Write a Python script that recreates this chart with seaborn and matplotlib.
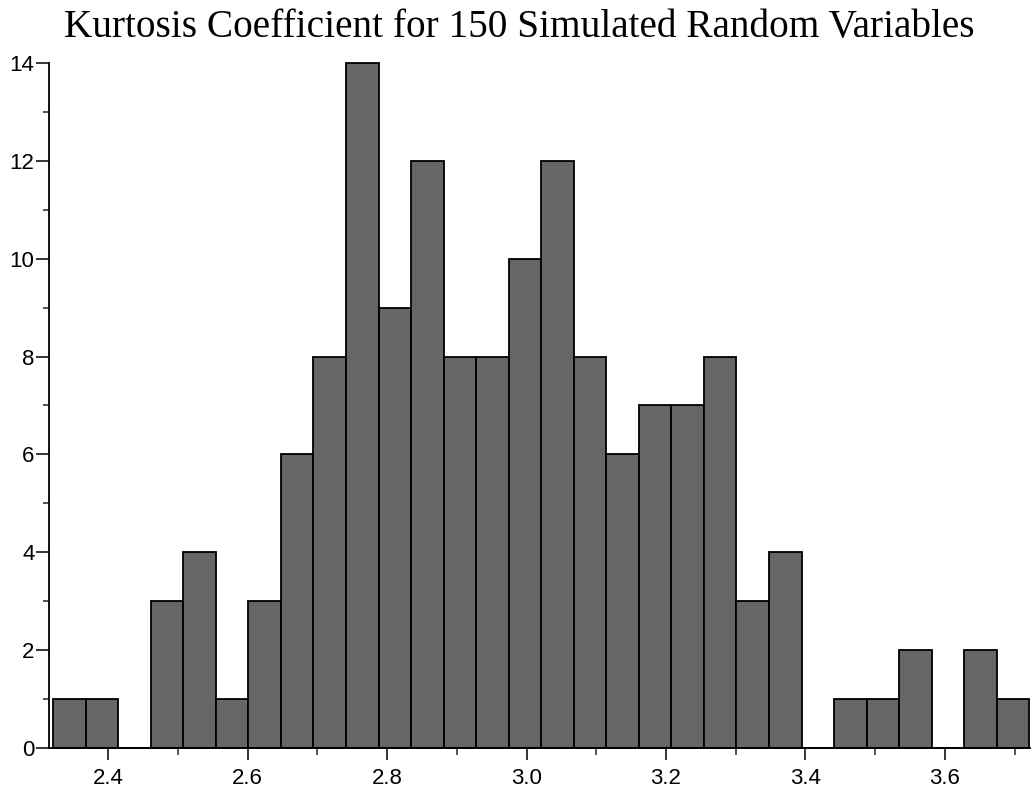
import matplotlib
matplotlib.use("Agg")
import matplotlib.pyplot as plt
import matplotlib.ticker as mticker
import numpy as np
import pandas as pd
import seaborn as sns

# Histogram counts (30 equal-width bins)
BIN_LO = 2.321
BIN_HI = 3.721
COUNTS = [1, 1, 0, 3, 4, 1, 3, 6, 8, 14,
          9, 12, 8, 8, 10, 12, 8, 6, 7, 7,
          8, 3, 4, 0, 1, 1, 2, 0, 2, 1]
X_TICKS = [2.4, 2.6, 2.8, 3.0, 3.2, 3.4, 3.6]
X_TICK_LABELS = ["2.4", "2.6", "2.8", "3.0", "3.2", "3.4", "3.6"]
Y_TICKS = [0, 2, 4, 6, 8, 10, 12, 14]
TITLE = "Kurtosis Coefficient for 150 Simulated Random Variables"

sns.set_theme(style="ticks")
plt.rcParams["font.family"] = ["Liberation Sans", "DejaVu Sans"]

edges = np.linspace(BIN_LO, BIN_HI, len(COUNTS) + 1)
df = pd.DataFrame({"kurtosis": (edges[:-1] + edges[1:]) / 2,
                   "n": COUNTS})

fig = plt.figure(figsize=(10.34, 7.97), dpi=100)
ax = fig.add_axes([0.0474, 0.0615, 0.9487, 0.8595])

sns.histplot(data=df, x="kurtosis", weights="n",
             bins=len(COUNTS), binrange=(BIN_LO, BIN_HI), stat="count",
             color="#666666", alpha=1.0, edgecolor="black", linewidth=1.3,
             ax=ax)
for p in ax.patches:
    p.set_clip_on(False)

ax.set_xlim(2.315, 3.722)
ax.set_ylim(0, 14)
ax.set_xticks(X_TICKS)
ax.set_xticklabels(X_TICK_LABELS)
ax.set_yticks(Y_TICKS)
ax.xaxis.set_minor_locator(mticker.MultipleLocator(0.1))
ax.yaxis.set_minor_locator(mticker.MultipleLocator(1))
ax.set_xlabel("")
ax.set_ylabel("")

ax.tick_params(axis="x", which="major", length=8.5, width=1.1, pad=6,
               labelsize=16, colors="black", direction="out")
ax.tick_params(axis="x", which="minor", length=4.8, width=1.1, direction="out")
ax.tick_params(axis="y", which="major", length=9.4, width=1.1, pad=1,
               labelsize=16, colors="black", direction="out")
ax.tick_params(axis="y", which="minor", length=4, width=1.1, direction="out")

sns.despine(ax=ax)
for side in ("left", "bottom"):
    ax.spines[side].set_linewidth(1.3)
    ax.spines[side].set_color("black")

fig.text(0.502, 0.9536, TITLE, ha="center", va="baseline", color="black",
         fontsize=28.3, family=["Liberation Serif", "DejaVu Serif"])

fig.savefig("out.png", dpi=100)
